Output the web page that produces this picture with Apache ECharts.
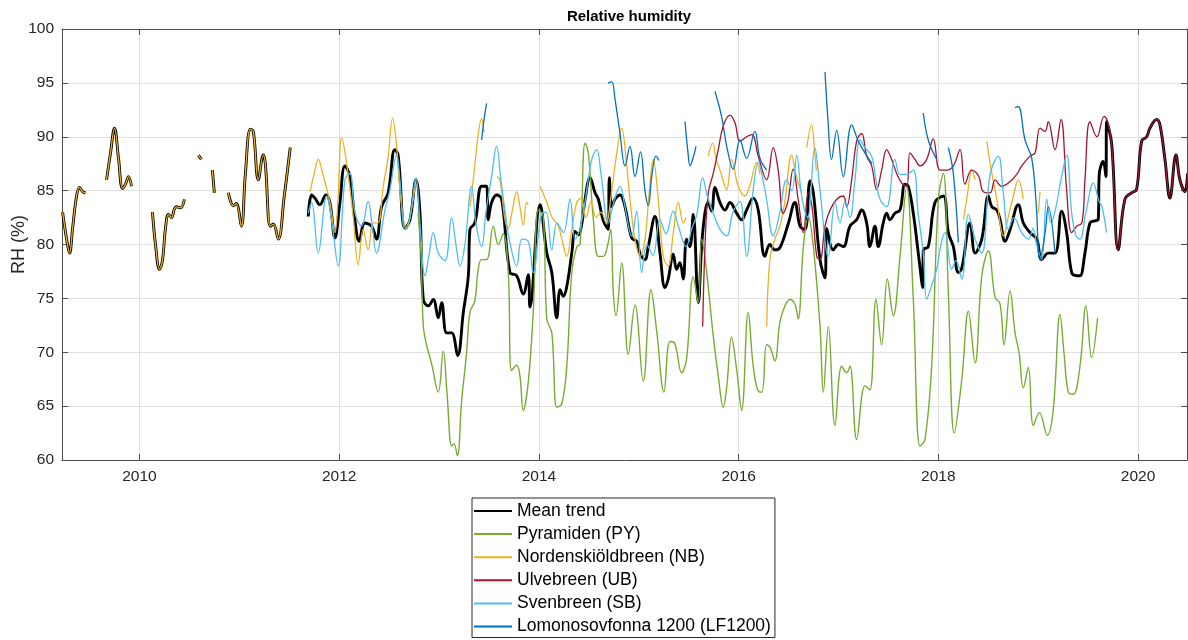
<!DOCTYPE html>
<html>
<head>
<meta charset="utf-8">
<title>Relative humidity</title>
<script src="https://cdn.jsdelivr.net/npm/echarts@6/dist/echarts.min.js"></script>
<style>
  html, body { margin: 0; padding: 0; background: #fff; }
  #chart { width: 1188px; height: 640px; }
</style>
</head>
<body>
<div id="chart"></div>
<script>
// decimal year, RH (%)
const yearTicks = [2010, 2012, 2014, 2016, 2018, 2020];

// 2009-2011 record: NB only, so mean == NB there
const earlySegs = [
  [[2009.23,83.0],[2009.27,80.5],[2009.30,79.2],[2009.33,81.5],[2009.37,84.5],[2009.40,85.3],[2009.43,84.9],[2009.46,84.8]],
  [[2009.67,86.0],[2009.71,88.5],[2009.75,90.8],[2009.79,88.0],[2009.83,85.2],[2009.86,85.6],[2009.89,86.3],[2009.92,85.4]],
  [[2010.13,83.0],[2010.16,80.0],[2010.20,77.7],[2010.23,78.5],[2010.26,81.5],[2010.29,82.8],[2010.32,82.5],[2010.35,83.3],[2010.37,83.5],[2010.41,83.4],[2010.45,84.2]],
  [[2010.59,88.3],[2010.62,87.9]],
  [[2010.73,86.9],[2010.75,84.8]],
  [[2010.89,84.8],[2010.94,83.6],[2010.97,83.8],[2011.02,81.7],[2011.06,86.5],[2011.11,90.7],[2011.14,90.5],[2011.19,86.0],[2011.24,88.3],[2011.26,87.5],[2011.31,81.7],[2011.34,81.9],[2011.39,80.5],[2011.45,84.5],[2011.51,89.0]]
];

// end of record: UB only, so mean == UB there
const tail2020 = [
  [2019.735,89.4],[2019.801,79.5],[2019.868,84.2],[2019.935,84.8],[2019.985,85.1],[2020.036,89.6],[2020.086,90.0],
  [2020.119,90.8],[2020.186,91.6],[2020.219,91.1],[2020.269,87.9],[2020.319,84.3],[2020.379,88.3],[2020.419,86.0],
  [2020.469,84.9],[2020.496,86.6]
];

const meanMain = [
  [2011.690,82.6],[2011.724,84.6],[2011.757,84.3],[2011.807,83.7],[2011.867,84.6],[2011.907,83.9],[2011.957,80.6],
  [2012.007,83.9],[2012.057,87.3],[2012.107,86.3],[2012.157,82.3],[2012.200,80.3],[2012.257,82.0],[2012.324,81.7],
  [2012.374,80.5],[2012.424,83.5],[2012.490,84.8],[2012.557,88.8],[2012.590,88.3],[2012.659,81.5],[2012.709,82.3],
  [2012.769,86.0],[2012.809,82.9],[2012.842,74.9],[2012.892,74.3],[2012.942,74.9],[2012.992,73.2],[2013.026,74.6],
  [2013.076,71.8],[2013.126,71.8],[2013.186,69.7],[2013.243,73.7],[2013.293,77.1],[2013.309,81.4],[2013.359,82.0],
  [2013.426,85.4],[2013.476,85.4],[2013.492,82.3],[2013.526,83.9],[2013.576,84.6],[2013.627,84.2],[2013.710,77.4],
  [2013.777,77.1],[2013.843,75.4],[2013.893,77.2],[2013.910,74.2],[2014.012,83.7],[2014.079,79.2],[2014.129,77.4],
  [2014.179,73.2],[2014.212,75.8],[2014.245,75.2],[2014.279,76.1],[2014.329,79.2],[2014.362,81.2],[2014.395,80.9],
  [2014.429,81.9],[2014.462,84.2],[2014.512,86.2],[2014.562,84.8],[2014.595,84.2],[2014.645,82.2],[2014.695,81.4],
  [2014.705,86.2],[2014.729,83.5],[2014.762,84.2],[2014.812,84.6],[2014.862,83.5],[2014.929,80.6],[2014.979,80.3],
  [2015.012,79.2],[2015.062,78.6],[2015.095,79.8],[2015.162,82.6],[2015.212,79.2],[2015.262,76.0],[2015.295,76.8],
  [2015.345,79.1],[2015.379,77.7],[2015.412,78.3],[2015.445,76.8],[2015.479,80.5],[2015.512,79.8],[2015.545,82.8],
  [2015.596,74.6],[2015.640,81.1],[2015.696,83.9],[2015.730,83.1],[2015.763,85.3],[2015.813,83.9],[2015.863,83.2],
  [2015.913,83.9],[2015.980,82.9],[2016.030,82.3],[2016.080,83.2],[2016.146,84.3],[2016.196,83.2],[2016.263,78.9],
  [2016.313,80.0],[2016.363,79.5],[2016.413,79.7],[2016.496,81.9],[2016.563,83.9],[2016.615,81.7],[2016.665,81.4],
  [2016.715,85.9],[2016.748,84.8],[2016.815,78.6],[2016.865,76.9],[2016.882,81.5],[2016.948,79.5],[2016.998,80.0],
  [2017.048,79.8],[2017.115,81.7],[2017.182,82.3],[2017.232,83.2],[2017.282,82.0],[2017.315,79.8],[2017.365,81.7],
  [2017.398,79.8],[2017.448,82.0],[2017.482,82.9],[2017.515,82.3],[2017.565,82.9],[2017.616,83.2],[2017.666,85.6],
  [2017.699,85.4],[2017.749,82.9],[2017.799,79.2],[2017.843,76.0],[2017.849,79.5],[2017.899,79.8],[2017.966,83.9],
  [2018.050,84.5],[2018.100,81.1],[2018.150,79.8],[2018.200,77.4],[2018.235,77.8],[2018.318,82.0],[2018.368,79.2],
  [2018.435,80.5],[2018.501,84.5],[2018.535,83.5],[2018.585,83.2],[2018.618,82.3],[2018.668,80.3],[2018.718,81.4],
  [2018.801,83.7],[2018.851,82.0],[2018.918,81.1],[2018.985,80.5],[2019.035,78.6],[2019.101,79.2],[2019.168,79.2],
  [2019.235,83.1],[2019.285,81.1],[2019.335,77.4],[2019.385,77.1],[2019.418,77.1],[2019.468,79.2],[2019.518,82.0],
  [2019.568,82.2],[2019.601,82.3],[2019.611,86.5],[2019.651,87.7],[2019.678,86.3],[2019.685,91.4]
];

const pyData = [
  [2012.789,82.9],[2012.819,79.0],[2012.842,72.5],[2012.869,70.9],[2012.926,68.9],[2012.992,66.3],[2013.042,70.1],
  [2013.079,66.3],[2013.126,61.3],[2013.149,61.5],[2013.183,60.4],[2013.226,65.5],[2013.276,70.0],[2013.309,73.7],
  [2013.359,74.8],[2013.389,77.5],[2013.426,78.6],[2013.476,78.6],[2013.543,81.7],[2013.593,80.0],[2013.643,81.0],
  [2013.693,77.4],[2013.726,68.3],[2013.777,68.8],[2013.810,67.8],[2013.843,64.6],[2013.893,67.2],[2013.943,73.7],
  [2013.993,83.2],[2014.043,82.6],[2014.079,73.1],[2014.129,71.8],[2014.179,64.9],[2014.229,65.2],[2014.279,68.7],
  [2014.329,77.4],[2014.379,79.8],[2014.412,80.0],[2014.462,89.4],[2014.495,88.5],[2014.545,82.3],[2014.595,78.9],
  [2014.645,78.9],[2014.685,79.8],[2014.719,81.4],[2014.745,75.5],[2014.772,73.4],[2014.829,78.3],[2014.895,69.8],
  [2014.962,74.4],[2015.045,67.3],[2015.122,75.8],[2015.179,72.0],[2015.252,66.3],[2015.312,71.0],[2015.362,70.8],
  [2015.429,68.1],[2015.479,69.4],[2015.545,77.0],[2015.596,74.6],[2015.630,80.5],[2015.673,78.0],[2015.746,71.5],
  [2015.796,67.8],[2015.846,64.9],[2015.883,67.0],[2015.928,71.4],[2015.980,68.4],[2016.030,64.6],[2016.096,73.7],
  [2016.146,68.7],[2016.196,66.4],[2016.233,66.3],[2016.280,70.7],[2016.313,70.5],[2016.363,69.2],[2016.413,72.8],
  [2016.463,74.3],[2016.513,74.9],[2016.563,74.5],[2016.596,73.1],[2016.648,79.8],[2016.698,82.6],[2016.748,79.8],
  [2016.815,72.4],[2016.848,66.3],[2016.898,72.4],[2016.965,63.2],[2017.032,68.7],[2017.082,68.1],[2017.115,68.7],
  [2017.182,61.9],[2017.265,66.9],[2017.315,66.5],[2017.375,74.9],[2017.432,70.7],[2017.489,76.8],[2017.549,73.4],
  [2017.616,78.9],[2017.683,85.4],[2017.749,74.9],[2017.816,61.3],[2017.866,61.9],[2017.933,68.7],[2018.000,84.2],
  [2018.050,86.6],[2018.100,75.5],[2018.160,62.5],[2018.235,67.5],[2018.301,73.8],[2018.368,69.0],[2018.435,77.1],
  [2018.501,79.4],[2018.568,75.1],[2018.618,74.5],[2018.658,70.7],[2018.718,75.7],[2018.768,71.8],[2018.808,70.0],
  [2018.851,66.7],[2018.901,68.6],[2018.951,63.2],[2019.011,64.4],[2019.091,62.3],[2019.151,64.7],[2019.218,73.5],
  [2019.258,70.0],[2019.301,66.3],[2019.351,66.1],[2019.418,68.7],[2019.478,74.3],[2019.535,69.5],[2019.595,73.2]
];

const nbSegs = [
  [[2011.708,84.9],[2011.748,86.5],[2011.790,87.9],[2011.837,86.5],[2011.907,83.9],[2011.957,81.1],[2011.987,84.0],
   [2012.024,89.9],[2012.067,88.0],[2012.140,82.6],[2012.190,78.1],[2012.240,81.4],[2012.290,79.5],[2012.340,82.0],
   [2012.387,82.0],[2012.441,85.4],[2012.488,88.0],[2012.535,91.7],[2012.575,89.1],[2012.619,84.0],[2012.676,81.4],
   [2012.719,83.0],[2012.769,86.0]],
  [[2013.309,83.5],[2013.349,86.5],[2013.389,90.0],[2013.426,91.7],[2013.449,90.4]],
  [[2013.580,86.3],[2013.610,86.0],[2013.660,82.3],[2013.693,81.5],[2013.730,83.0],[2013.777,84.9],[2013.810,83.5],
   [2013.843,81.8],[2013.877,83.9],[2013.893,83.7]],
  [[2014.012,85.4],[2014.079,83.9],[2014.132,82.5],[2014.195,81.7],[2014.242,80.0],[2014.279,78.9],[2014.329,81.4],
   [2014.379,83.9],[2014.422,84.3],[2014.472,82.5],[2014.522,84.0],[2014.572,82.5],[2014.622,83.0],[2014.672,82.0],
   [2014.722,84.5],[2014.772,88.0],[2014.829,90.8],[2014.872,88.0],[2014.912,84.2],[2014.962,80.5],[2015.012,78.9],
   [2015.062,80.5],[2015.102,84.5],[2015.145,87.9],[2015.192,84.5],[2015.245,78.9],[2015.295,78.0],[2015.342,80.8],
   [2015.396,83.9],[2015.446,82.0],[2015.473,82.5]],
  [[2015.696,88.2],[2015.740,89.4],[2015.773,88.0],[2015.813,86.9],[2015.880,85.1],[2015.930,87.9],[2015.996,85.4],
   [2016.063,84.5],[2016.113,85.5],[2016.180,87.6],[2016.213,86.5]],
  [[2016.281,72.4],[2016.313,78.6],[2016.363,80.5],[2016.413,81.7],[2016.463,84.0],[2016.530,88.3],[2016.574,86.5],
   [2016.631,84.8]],
  [[2016.683,89.0],[2016.729,91.1],[2016.763,88.5],[2016.778,86.9]],
  [[2018.252,82.3],[2018.289,84.5],[2018.336,86.9],[2018.369,86.0]],
  [[2018.485,89.6],[2018.528,87.0],[2018.585,84.2],[2018.618,82.0],[2018.651,80.8],[2018.701,82.6],[2018.751,84.5],
   [2018.801,86.0],[2018.851,84.2]],
  [[2019.001,82.9],[2019.018,84.9]]
];

const ubMain = [
  [2015.640,72.4],[2015.663,79.8],[2015.696,84.8],[2015.746,86.6],[2015.796,88.8],[2015.846,91.0],[2015.913,92.0],
  [2015.963,91.3],[2016.013,89.6],[2016.080,90.0],[2016.133,90.2],[2016.196,88.2],[2016.280,86.0],[2016.346,89.0],
  [2016.396,86.9],[2016.446,82.9],[2016.493,84.0],[2016.546,87.0],[2016.596,84.2],[2016.648,81.1],[2016.698,84.8],
  [2016.735,83.5],[2016.782,78.9],[2016.815,78.6],[2016.865,81.7],[2016.915,83.2],[2016.982,84.2],[2017.048,84.5],
  [2017.082,83.5],[2017.132,86.0],[2017.182,89.6],[2017.232,90.3],[2017.282,88.2],[2017.332,87.3],[2017.382,85.1],
  [2017.432,86.9],[2017.482,88.8],[2017.532,87.9],[2017.582,86.6],[2017.633,85.7],[2017.683,85.4],[2017.716,88.5],
  [2017.766,87.9],[2017.816,87.3],[2017.883,87.9],[2017.949,89.8],[2018.016,86.9],[2018.083,86.9],[2018.150,87.3],
  [2018.217,88.8],[2018.267,85.6],[2018.334,86.9],[2018.401,86.4],[2018.451,84.9],[2018.518,84.8],[2018.568,86.0],
  [2018.635,85.4],[2018.701,85.7],[2018.785,86.5],[2018.835,87.3],[2018.918,88.2],[2018.968,88.5],[2019.018,90.8],
  [2019.068,90.5],[2019.101,91.4],[2019.168,88.8],[2019.228,91.6],[2019.285,85.0],[2019.335,81.1],[2019.385,81.7],
  [2019.438,82.0],[2019.468,86.0],[2019.518,91.4],[2019.588,90.0],[2019.660,91.9],[2019.700,91.3]
];

const sbData = [
  [2011.690,82.9],[2011.724,83.9],[2011.790,79.2],[2011.874,84.5],[2011.927,82.0],[2011.990,78.0],[2012.057,86.0],
  [2012.107,86.6],[2012.157,83.0],[2012.224,81.7],[2012.290,84.0],[2012.327,82.0],[2012.374,79.2],[2012.456,83.1],
  [2012.506,85.0],[2012.575,88.3],[2012.608,86.0],[2012.659,81.4],[2012.709,82.5],[2012.769,86.2],[2012.809,82.0],
  [2012.859,77.1],[2012.899,79.0],[2012.942,81.1],[2012.992,79.2],[2013.059,78.5],[2013.126,82.5],[2013.169,80.0],
  [2013.209,78.0],[2013.259,80.0],[2013.326,85.4],[2013.369,82.0],[2013.426,79.8],[2013.469,83.0],[2013.526,86.3],
  [2013.576,89.1],[2013.619,86.0],[2013.669,82.5],[2013.709,80.2],[2013.777,78.0],[2013.830,80.5],[2013.893,80.3],
  [2013.943,77.4],[2014.029,82.9],[2014.072,83.0],[2014.129,79.5],[2014.182,82.0],[2014.245,81.1],[2014.312,84.2],
  [2014.362,80.5],[2014.412,81.5],[2014.462,84.0],[2014.529,87.9],[2014.579,88.8],[2014.622,86.5],[2014.695,82.0],
  [2014.752,84.0],[2014.812,85.4],[2014.862,83.5],[2014.929,80.8],[2014.979,83.1],[2015.029,77.4],[2015.082,80.0],
  [2015.142,79.0],[2015.212,82.3],[2015.272,81.0],[2015.345,83.1],[2015.402,81.5],[2015.473,79.8],[2015.532,81.5],
  [2015.582,82.8],[2015.640,86.2],[2015.686,84.5],[2015.746,82.9],[2015.813,81.4],[2015.880,80.8],[2015.943,83.0],
  [2016.013,84.0],[2016.080,78.9],[2016.146,85.1],[2016.196,87.6],[2016.243,86.0],[2016.280,84.2],[2016.346,80.8],
  [2016.413,83.0],[2016.480,86.0],[2016.533,85.0],[2016.581,88.3],[2016.631,84.5],[2016.690,82.5],[2016.763,89.0],
  [2016.815,85.0],[2016.898,78.9],[2016.965,83.9],[2017.015,82.0],[2017.065,84.0],[2017.115,82.5],[2017.165,86.0],
  [2017.215,89.7],[2017.265,89.0],[2017.332,88.2],[2017.375,86.0],[2017.415,84.2],[2017.482,83.5],[2017.565,87.9],
  [2017.616,86.5],[2017.676,86.5],[2017.749,86.9],[2017.796,83.0],[2017.849,79.2],[2017.883,74.9],[2017.926,76.0],
  [2017.983,77.7],[2018.026,80.0],[2018.066,81.1],[2018.133,77.7],[2018.176,78.5],[2018.235,76.8],[2018.301,82.8],
  [2018.368,80.5],[2018.435,79.2],[2018.518,86.5],[2018.601,88.2],[2018.648,85.0],[2018.701,81.4],[2018.757,82.5],
  [2018.835,81.1],[2018.901,80.5],[2018.948,81.5],[2018.985,80.0],[2019.035,78.6],[2019.085,84.2],[2019.128,82.0],
  [2019.178,83.5],[2019.228,86.0],[2019.285,88.3],[2019.335,82.9],[2019.378,80.8],[2019.418,80.5],[2019.478,83.0],
  [2019.552,85.7],[2019.609,84.0],[2019.639,83.5],[2019.684,81.1]
];

const lfSegs = [
  [[2013.426,89.7],[2013.449,91.5],[2013.476,93.1]],
  [[2014.692,95.0],[2014.729,95.1],[2014.762,93.5],[2014.812,90.3],[2014.862,87.3],[2014.912,89.1],[2014.962,86.3],
   [2015.017,88.6],[2015.062,85.0],[2015.095,83.6],[2015.132,86.5],[2015.172,88.2],[2015.202,87.8]],
  [[2015.463,91.4],[2015.493,88.5],[2015.513,87.3],[2015.543,88.0],[2015.573,89.1]],
  [[2015.763,94.2],[2015.829,91.9],[2015.883,89.0],[2015.946,87.0],[2016.013,89.7],[2016.080,88.0],[2016.163,90.5],
   [2016.213,88.0],[2016.280,86.9]],
  [[2016.865,96.0],[2016.895,91.5],[2016.930,87.9],[2016.982,90.6],[2017.048,86.3],[2017.132,91.1],[2017.198,89.6],
   [2017.265,88.5],[2017.335,87.5]],
  [[2017.849,92.2],[2017.899,89.7],[2017.983,87.9]],
  [[2018.100,89.0],[2018.150,86.6],[2018.200,80.2]],
  [[2018.768,92.7],[2018.801,92.8],[2018.868,89.7],[2018.935,88.0],[2018.978,84.0],[2019.018,78.6],[2019.068,81.0],
   [2019.101,83.5],[2019.168,79.2]]
];

function joinSegs(segs) {
  const out = [];
  segs.forEach((s, i) => {
    if (i) out.push([s[0][0], null]);
    out.push(...s);
  });
  return out;
}

const meanData = joinSegs(earlySegs.concat([meanMain.concat(tail2020)]));
const nbData = joinSegs(earlySegs.concat(nbSegs));
const ubData = ubMain.concat(tail2020);
const lfData = joinSegs(lfSegs);

const FONT = "'Liberation Sans', Arial, sans-serif";
const TXT = "#262626";
const AXIS = "#4d4d4d";

function lineSeries(name, data, color, width) {
  return {
    name: name,
    type: "line",
    data: data,
    showSymbol: false,
    symbol: "none",
    smooth: 0.4,
    connectNulls: false,
    lineStyle: { color: color, width: width },
    itemStyle: { color: color },
    emphasis: { disabled: true },
    animation: false,
  };
}

const chart = echarts.init(document.getElementById("chart"), null, { renderer: "canvas" });
chart.setOption({
  backgroundColor: "#fff",
  animation: false,
  textStyle: { fontFamily: FONT },
  title: {
    text: "Relative humidity",
    left: 624,
    textAlign: "center",
    top: 4,
    textStyle: { fontSize: 15, fontWeight: "bold", color: "#000", fontFamily: FONT },
  },
  grid: { left: 62, right: 1, top: 29, bottom: 180, containLabel: false, outerBoundsMode: "none" },
  xAxis: [
    {
      type: "value",
      min: 2009.224,
      max: 2020.49,
      axisLine: { show: true, lineStyle: { color: AXIS, width: 1 } },
      axisTick: { show: true, inside: true, length: 6, customValues: yearTicks, lineStyle: { color: AXIS } },
      axisLabel: { customValues: yearTicks, color: TXT, fontSize: 15.5, margin: 9, fontFamily: FONT, formatter: (v) => String(v) },
      splitLine: { show: true, lineStyle: { color: "#e0e0e0", width: 1 } },
    },
    {
      type: "value",
      position: "top",
      min: 2009.224,
      max: 2020.49,
      axisLine: { show: true, lineStyle: { color: AXIS, width: 1 } },
      axisTick: { show: true, inside: true, length: 6, customValues: yearTicks, lineStyle: { color: AXIS } },
      axisLabel: { show: false },
      splitLine: { show: false },
    },
  ],
  yAxis: [
    {
      type: "value",
      min: 60,
      max: 100,
      interval: 5,
      name: "RH (%)",
      nameLocation: "middle",
      nameGap: 34,
      nameMoveOverlap: false,
      nameTextStyle: { fontSize: 18, color: TXT, fontFamily: FONT },
      axisLine: { show: true, lineStyle: { color: AXIS, width: 1 } },
      axisTick: { show: true, inside: true, length: 6, lineStyle: { color: AXIS } },
      axisLabel: { color: TXT, fontSize: 15.5, margin: 8, fontFamily: FONT },
      splitLine: { show: true, lineStyle: { color: "#e0e0e0", width: 1 } },
    },
    {
      type: "value",
      position: "right",
      min: 60,
      max: 100,
      interval: 5,
      axisLine: { show: true, lineStyle: { color: AXIS, width: 1 } },
      axisTick: { show: true, inside: true, length: 6, lineStyle: { color: AXIS } },
      axisLabel: { show: false },
      splitLine: { show: false },
    },
  ],
  legend: {
    orient: "vertical",
    left: 472,
    top: 498,
    height: 300,
    padding: [4, 4, 2, 1],
    itemWidth: 38,
    itemHeight: 14,
    itemGap: 5.1,
    borderColor: "#262626",
    borderWidth: 1,
    backgroundColor: "#fff",
    itemStyle: { opacity: 0 },
    textStyle: { fontSize: 17.5, color: "#000", fontFamily: FONT },
    data: [
      "Mean trend",
      "Pyramiden (PY)",
      "Nordenskiöldbreen (NB)",
      "Ulvebreen (UB)",
      "Svenbreen (SB)",
      "Lomonosovfonna 1200 (LF1200)",
    ],
  },
  series: [
    lineSeries("Mean trend", meanData, "#000000", 2.9),
    lineSeries("Pyramiden (PY)", pyData, "#77AC30", 1.4),
    lineSeries("Nordenskiöldbreen (NB)", nbData, "#EDB120", 1.3),
    lineSeries("Ulvebreen (UB)", ubData, "#A2142F", 1.3),
    lineSeries("Svenbreen (SB)", sbData, "#4DBEEE", 1.3),
    lineSeries("Lomonosovfonna 1200 (LF1200)", lfData, "#0072BD", 1.3),
  ],
});
</script>
</body>
</html>
